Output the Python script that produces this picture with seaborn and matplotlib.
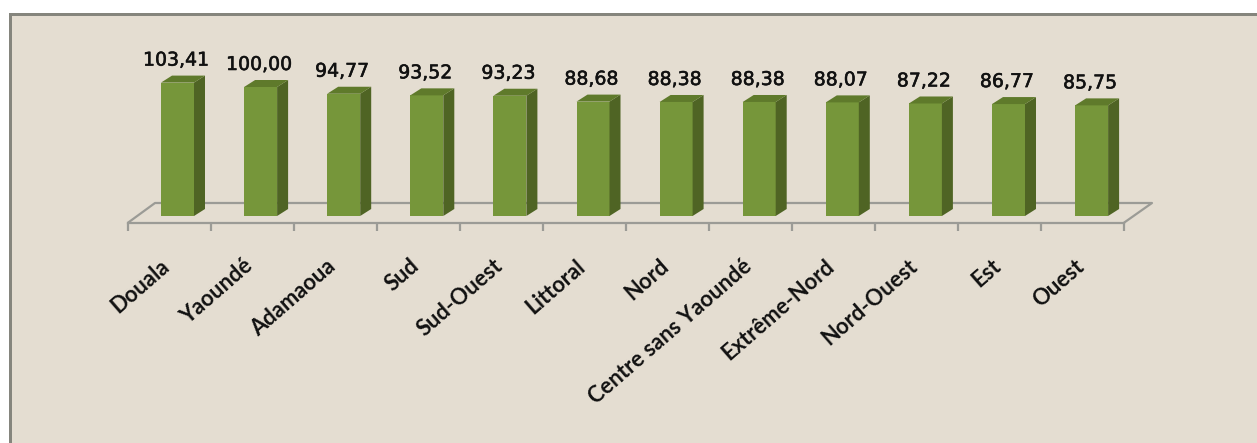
import matplotlib
matplotlib.use("Agg")
import matplotlib.pyplot as plt
from matplotlib.patches import Polygon, Rectangle
import matplotlib.patheffects as pe
import pandas as pd
import seaborn as sns

regions = ["Douala", "Yaoundé", "Adamaoua", "Sud", "Sud-Ouest", "Littoral", "Nord",
           "Centre sans Yaoundé", "Extrême-Nord", "Nord-Ouest", "Est", "Ouest"]
values = [103.41, 100.00, 94.77, 93.52, 93.23, 88.68, 88.38, 88.38, 88.07, 87.22, 86.77, 85.75]

W, H = 1257, 443
BG = "#E4DDD1"
BORDER = "#85857D"
FRONT = "#76963A"
SIDE = "#4F6424"
TOP = "#5F7A2B"
FLOOR = "#9B9B96"

sns.set_theme(style="white")

fig = plt.figure(figsize=(W / 100, H / 100), dpi=100, facecolor="white")


def px_rect(x0, y0, x1, y1, color):
    # rectangle given in image pixels, y going down
    fig.add_artist(Rectangle((x0 / W, 1 - y1 / H), (x1 - x0) / W, (y1 - y0) / H,
                             transform=fig.transFigure, facecolor=color, edgecolor="none",
                             zorder=-1))


# chart frame: only top and left edges are inside the picture
px_rect(9, 13, W, H, BG)
px_rect(9, 13, W, 16, BORDER)
px_rect(9, 13, 12, H, BORDER)

# axes cover the front edge of the floor, in pixels
left, right, bottom, top = 128, 1124, 222.7, 40
ax = fig.add_axes([left / W, 1 - bottom / H, (right - left) / W, (bottom - top) / H])
ax.patch.set_alpha(0)

step = 83.1
px_y = 1.29
xlim = ((left - 177.5) / step, (right - 177.5) / step)
ylim = (-(bottom - 216) / px_y, (216 - top) / px_y)
dx = 11 / step
dy = 7 / px_y

df = pd.DataFrame({"region": regions, "value": values})
sns.barplot(data=df, x="region", y="value", color=FRONT, saturation=1, width=33 / step,
            linewidth=0, ax=ax, zorder=3)
ax.set_xlim(*xlim)
ax.set_ylim(*ylim)
ax.set_xlabel("")
ax.set_ylabel("")
ax.set_yticks([])

# floor
floor_back = (216 - 203) / px_y
ax.plot([xlim[0], xlim[0] + 27 / step, xlim[1] + 28 / step, xlim[1]],
        [ylim[0], floor_back, floor_back, ylim[0]], color=FLOOR, lw=1.6, clip_on=False, zorder=1)
for name, spine in ax.spines.items():
    spine.set_visible(name == "bottom")
ax.spines["bottom"].set_color(FLOOR)
ax.spines["bottom"].set_linewidth(1.6)

# ticks between the categories, labels set by hand
edges = [xlim[0] + i * (xlim[1] - xlim[0]) / len(regions) for i in range(len(regions) + 1)]
ax.set_xticks(edges)
ax.set_xticklabels([])
ax.tick_params(axis="x", bottom=True, length=6, width=1.6, color=FLOOR)

# 3d faces of each bar
for bar, val in zip(ax.patches, values):
    x0 = bar.get_x()
    x1 = x0 + bar.get_width()
    ax.add_patch(Polygon([(x1, 0), (x1 + dx, dy), (x1 + dx, val + dy), (x1, val)],
                         facecolor=SIDE, edgecolor="none", zorder=3))
    ax.add_patch(Polygon([(x0, val), (x0 + dx, val + dy), (x1 + dx, val + dy), (x1, val)],
                         facecolor=TOP, edgecolor="none", zorder=3))
    ax.text(x0 + bar.get_width() / 2 - 1.5 / step, val + dy + 10 / px_y,
            f"{val:.2f}".replace(".", ","), ha="center", va="baseline", fontsize=13.6,
            color="#111111", family="DejaVu Sans", clip_on=False,
            path_effects=[pe.withStroke(linewidth=0.4, foreground="#111111")])

# rotated labels end just under the tick gap
for i, name in enumerate(regions):
    ax.annotate(name, xy=(i, ylim[0]), xytext=(-12.5, -23.5), textcoords="offset points",
                rotation=41, rotation_mode="anchor", ha="right", va="top", fontsize=15.8,
                fontweight="bold", family="Lato", color="#111111",
                annotation_clip=False)

fig.savefig("out.png", dpi=100, facecolor="white")
